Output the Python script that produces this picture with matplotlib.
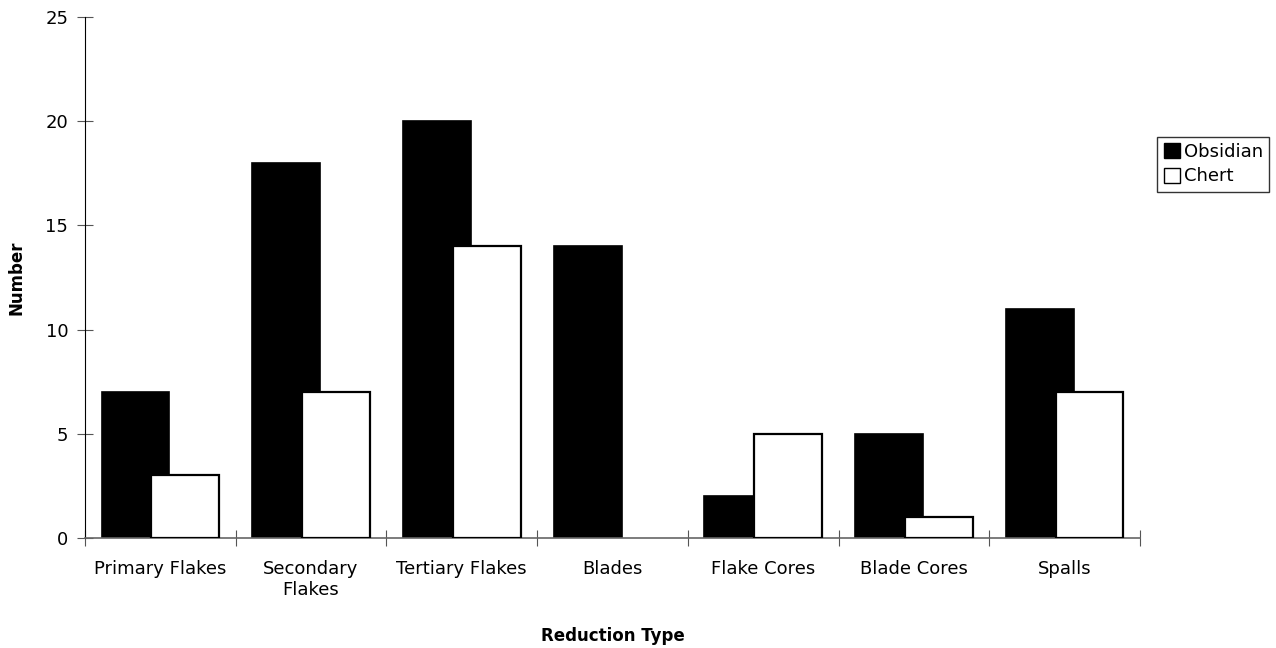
import numpy as np
import matplotlib.pyplot as plt
from matplotlib.patches import Patch

categories = ['Primary Flakes', 'Secondary\nFlakes', 'Tertiary Flakes', 'Blades',
              'Flake Cores', 'Blade Cores', 'Spalls']
obsidian = [7, 18, 20, 14, 2, 5, 11]
chert = [3, 7, 14, 0, 5, 1, 7]

fig = plt.figure(figsize=(12.76, 6.48), dpi=100)
ax = fig.add_axes([0.0666, 0.1698, 0.8268, 0.804])

x = np.arange(len(categories)) + 0.5
w = 0.45
ax.bar(x - 0.165, obsidian, w, color='black', edgecolor='black', linewidth=1.2, zorder=2)
# empty bars get no outline so nothing sits on the baseline
ax.bar(x + 0.165, chert, w, color='white', edgecolor='black',
       linewidth=[1.6 if v else 0 for v in chert], zorder=3)

ax.set_xlim(0, len(categories))
ax.set_ylim(0, 25)
ax.set_yticks(np.arange(0, 26, 5))
ax.set_xticks(np.arange(0, len(categories) + 1))
ax.set_xticklabels([])
ax.set_xticks(x, minor=True)
ax.set_xticklabels(categories, minor=True)

ax.tick_params(axis='x', which='major', direction='inout', length=12, color='#555555')
ax.tick_params(axis='x', which='minor', length=0, pad=16, labelsize=13)
ax.tick_params(axis='y', direction='inout', length=12, color='#555555', labelsize=13, pad=6)

for s in ['top', 'right']:
    ax.spines[s].set_visible(False)
ax.spines['left'].set_color('black')
ax.spines['bottom'].set_color('#666666')
ax.spines['bottom'].set_linewidth(1.2)

ax.set_ylabel('Number', fontsize=12, fontweight='bold', labelpad=14)
ax.set_xlabel('Reduction Type', fontsize=12, fontweight='bold', labelpad=20)

handles = [Patch(facecolor='black', edgecolor='black', label='Obsidian'),
           Patch(facecolor='white', edgecolor='black', label='Chert')]
fig.legend(handles=handles, loc='upper left', bbox_to_anchor=(0.907, 0.789),
           fontsize=13, frameon=True, fancybox=False, edgecolor='black',
           handlelength=0.9, handleheight=0.9, handletextpad=0.2,
           borderpad=0.35, labelspacing=0.35, borderaxespad=0)

plt.savefig('out.png', dpi=100)
